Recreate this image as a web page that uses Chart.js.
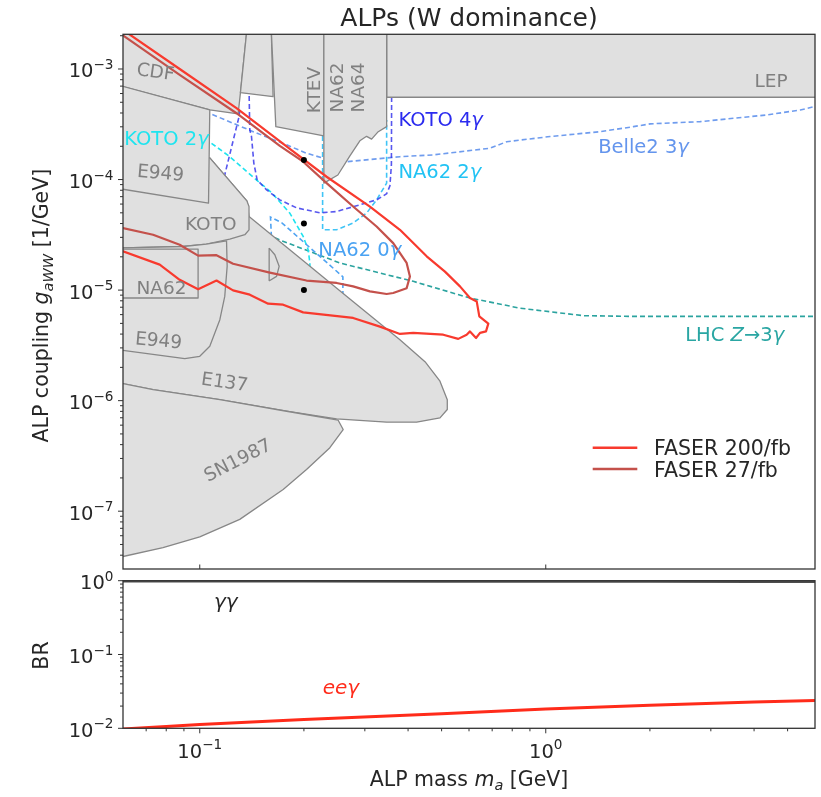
<!DOCTYPE html>
<html>
<head>
<meta charset="utf-8">
<script src="https://cdn.jsdelivr.net/npm/chart.js@4.4.1/dist/chart.umd.min.js"></script>
<style>
  html, body { margin: 0; padding: 0; background: #fff; }
  #wrap { position: relative; width: 821px; height: 797px; }
  #wrap canvas { position: absolute; left: 0; top: 0; }
</style>
</head>
<body>
<div id="wrap">
  <canvas id="chart-top" width="821" height="797"></canvas>
  <canvas id="chart-br" width="821" height="797"></canvas>
</div>
<script>
// --- 1. axis ranges and tick labels ---
const massRange = [0.06, 6];
const couplingRange = [3.04e-8, 2.06e-3];
const brRange = [0.01, 1];

const couplingTicks = [1e-3, 1e-4, 1e-5, 1e-6, 1e-7];
const couplingTickExp = ['−3', '−4', '−5', '−6', '−7'];
const massTicks = [0.1, 1];
const massTickExp = ['−1', '0'];
const brTicks = [1, 0.1, 0.01];
const brTickExp = ['0', '−1', '−2'];

// --- 2. excluded regions (gray polygons), mass [GeV] / coupling [1/GeV] ---
const lepMass = [0.347, 7, 7, 0.347, 0.347];
const lepCoup = [3e-3, 3e-3, 5.55e-4, 5.55e-4, 3e-3];

const e137Mass = [0.0579, 0.1069, 0.1368, 0.1388, 0.1947, 0.2716, 0.3789, 0.4477, 0.4946, 0.5193, 0.5193, 0.4946, 0.4236, 0.3468, 0.2486, 0.1782, 0.1143, 0.0733, 0.0579, 0.0579];
const e137Coup = [2.53e-4, 1.57e-4, 6.42e-5, 4.63e-5, 1.95e-5, 8.31e-6, 3.56e-6, 2.25e-6, 1.50e-6, 1.02e-6, 8.31e-7, 6.99e-7, 6.38e-7, 6.38e-7, 6.84e-7, 8.02e-7, 1.02e-6, 1.26e-6, 1.46e-6, 2.53e-4];

const snMass = [0.0579, 0.0733, 0.1143, 0.1782, 0.2512, 0.2597, 0.2377, 0.2035, 0.1742, 0.1305, 0.1, 0.0783, 0.06, 0.0579, 0.0579];
const snCoup = [1.46e-6, 1.26e-6, 1.02e-6, 8.02e-7, 6.65e-7, 5.48e-7, 3.75e-7, 2.38e-7, 1.57e-7, 8.43e-8, 5.86e-8, 4.68e-8, 3.89e-8, 3.79e-8, 1.46e-6];

const cdfMass = [0.0579, 0.1369, 0.1311, 0.1291, 0.1069, 0.0599, 0.0579, 0.0579];
const cdfCoup = [2.3e-3, 2.3e-3, 6.11e-4, 3.92e-4, 4.26e-4, 6.92e-4, 7.17e-4, 2.3e-3];

const midMass = [0.1369, 0.1609, 0.1629, 0.1311, 0.1369];
const midCoup = [2.3e-3, 2.3e-3, 5.62e-4, 6.11e-4, 2.3e-3];

const ktevMass = [0.1609, 0.2284, 0.2284, 0.1659, 0.1609];
const ktevCoup = [2.3e-3, 2.3e-3, 2.48e-4, 3.01e-4, 2.3e-3];

const na6264Mass = [0.2284, 0.3468, 0.3468, 0.3280, 0.3138, 0.3035, 0.2902, 0.2716, 0.2507, 0.2284, 0.2284];
const na6264Coup = [2.3e-3, 2.3e-3, 3.01e-4, 2.71e-4, 2.32e-4, 2.46e-4, 2.24e-4, 1.64e-4, 1.10e-4, 9.28e-5, 2.3e-3];

const kotoMass = [0.0579, 0.1069, 0.1368, 0.1388, 0.1388, 0.135, 0.1221, 0.1045, 0.0895, 0.0579, 0.0579];
const kotoCoup = [8.32e-5, 1.57e-4, 6.42e-5, 5.70e-5, 3.51e-5, 3.17e-5, 2.89e-5, 2.61e-5, 2.48e-5, 2.40e-5, 8.32e-5];

const e949UpMass = [0.0579, 0.1069, 0.106, 0.0579, 0.0579];
const e949UpCoup = [7.17e-4, 4.26e-4, 6.12e-5, 8.32e-5, 7.17e-4];

const e949LowMass = [0.0579, 0.0895, 0.1045, 0.1195, 0.12, 0.1181, 0.1143, 0.1069, 0.1, 0.0905, 0.0599, 0.0579, 0.0579];
const e949LowCoup = [2.40e-5, 2.48e-5, 2.61e-5, 2.79e-5, 1.64e-5, 8.77e-6, 5.40e-6, 3.10e-6, 2.52e-6, 2.40e-6, 2.85e-6, 2.89e-6, 2.40e-5];

const na62BoxMass = [0.0579, 0.0989, 0.0989, 0.0579, 0.0579];
const na62BoxCoup = [2.35e-5, 2.35e-5, 8.48e-6, 8.48e-6, 2.35e-5];

const crescentMass = [0.1587, 0.1648, 0.1696, 0.1667, 0.1594, 0.1587];
const crescentCoup = [2.40e-5, 2.09e-5, 1.64e-5, 1.33e-5, 1.22e-5, 2.40e-5];

// --- 3. projected sensitivities (dashed) ---
const koto2gMass = [0.1034, 0.1081, 0.1221, 0.1423, 0.1615, 0.1821, 0.199, 0.2057, 0.2081, 0.2081];
const koto2gCoup = [2.33e-4, 2.13e-4, 1.61e-4, 1.06e-4, 7.58e-5, 4.97e-5, 3.06e-5, 2.32e-5, 1.76e-5, 1.38e-5];

const koto4gMassA = [0.1305, 0.1299, 0.1184, 0.1177];
const koto4gCoupA = [4.26e-4, 3.71e-4, 1.14e-4, 1.04e-4];
const koto4gMassB = [0.1388, 0.1395, 0.1411, 0.1433, 0.1465, 0.156, 0.1704, 0.1904, 0.2224, 0.2486, 0.2902, 0.3244, 0.3468, 0.3545, 0.358, 0.3585, 0.3585];
const koto4gCoupB = [6.74e-4, 2.81e-4, 2.45e-4, 1.41e-4, 9.94e-5, 8.07e-5, 6.55e-5, 5.55e-5, 5.00e-5, 5.14e-5, 5.91e-5, 6.55e-5, 7.43e-5, 8.77e-5, 1.36e-4, 5.44e-4, 6.46e-4];

const na62g2Mass = [0.2265, 0.2265, 0.2486, 0.2775, 0.3035, 0.3244, 0.3468, 0.3468];
const na62g2Coup = [3.46e-4, 3.51e-5, 3.51e-5, 4.04e-5, 4.97e-5, 6.55e-5, 9.28e-5, 3.46e-4];

const na62g0Mass = [0.1615, 0.1601, 0.1727, 0.2592, 0.2592];
const na62g0Coup = [2.57e-5, 4.57e-5, 4.06e-5, 1.32e-5, 9.09e-6];

const belleMass = [0.1034, 0.1069, 0.1427, 0.1782, 0.2035, 0.2274, 0.2657, 0.3789, 0.4721, 0.69, 0.7713, 1.029, 1.436, 1.792, 2.003, 2.795, 4.359, 5.44, 6.64];
const belleCoup = [4.09e-4, 3.96e-4, 2.71e-4, 2.06e-4, 1.73e-4, 1.56e-4, 1.45e-4, 1.61e-4, 1.67e-4, 1.92e-4, 2.20e-4, 2.45e-4, 2.71e-4, 3.01e-4, 3.19e-4, 3.34e-4, 3.84e-4, 4.26e-4, 4.93e-4];

const lhcMass = [0.1648, 0.1727, 0.2541, 0.414, 0.6039, 0.8428, 1.284, 1.792, 6.64];
const lhcCoup = [2.97e-5, 2.79e-5, 1.76e-5, 1.20e-5, 8.48e-6, 6.86e-6, 5.87e-6, 5.78e-6, 5.78e-6];

// --- 4. FASER reach contours and benchmark points ---
const faser200Mass = [0.0607, 0.0875, 0.1277, 0.1821, 0.2326, 0.3103, 0.3789, 0.4527, 0.5113, 0.565, 0.6039, 0.6316, 0.6426, 0.6823, 0.6719, 0.6457, 0.6287, 0.6039, 0.5907, 0.5586, 0.5056, 0.414, 0.3789, 0.3317, 0.2775, 0.199, 0.1742, 0.1576, 0.1395, 0.1248, 0.1118, 0.0989, 0.0875, 0.0766, 0.06, 0.0579];
const faser200Coup = [2.2e-3, 1.0e-3, 4.42e-4, 1.89e-4, 1.06e-4, 5.70e-5, 3.51e-5, 2.02e-5, 1.47e-5, 1.08e-5, 8.48e-6, 7.90e-6, 5.78e-6, 4.97e-6, 4.23e-6, 4.10e-6, 3.69e-6, 4.23e-6, 3.95e-6, 3.62e-6, 3.95e-6, 4.10e-6, 4.01e-6, 4.67e-6, 5.60e-6, 6.29e-6, 7.38e-6, 7.54e-6, 9.09e-6, 9.94e-6, 1.22e-5, 1.02e-5, 1.24e-5, 1.70e-5, 2.24e-5, 2.32e-5];

const faser27Mass = [0.0579, 0.0607, 0.0875, 0.1277, 0.1704, 0.199, 0.2326, 0.2775, 0.3244, 0.3623, 0.3962, 0.405, 0.3962, 0.3623, 0.3468, 0.3103, 0.2775, 0.2486, 0.2035, 0.1594, 0.1248, 0.1118, 0.0989, 0.0875, 0.0733, 0.06, 0.0579];
const faser27Coup = [2.25e-3, 1.96e-3, 8.85e-4, 3.98e-4, 2.02e-4, 1.45e-4, 9.28e-5, 5.70e-5, 3.76e-5, 2.66e-5, 1.76e-5, 1.33e-5, 1.04e-5, 9.41e-6, 9.22e-6, 9.73e-6, 1.08e-5, 1.16e-5, 1.22e-5, 1.44e-5, 1.73e-5, 2.07e-5, 2.05e-5, 2.57e-5, 3.17e-5, 3.64e-5, 3.74e-5];

const benchMass = [0.2, 0.2, 0.2];
const benchCoup = [1.5e-4, 4.0e-5, 1.0e-5];

// --- 5. branching ratios (lower panel) ---
const brMass = [0.06, 0.08, 0.1, 0.2, 0.5, 1, 2, 4, 6];
const brGammaGamma = [0.990, 0.989, 0.989, 0.987, 0.984, 0.982, 0.980, 0.977, 0.976];
const brEEGamma = [0.0098, 0.0106, 0.0113, 0.0132, 0.0158, 0.0182, 0.0205, 0.0227, 0.0238];

// --- 6. text labels ---
const regionLabels = [
  { text: 'CDF', m: 0.0746, g: 9.59e-4, rot: 8 },
  { text: 'E949', m: 0.0771, g: 1.17e-4, rot: 5 },
  { text: 'KOTO', m: 0.1076, g: 3.98e-5, rot: 0 },
  { text: 'NA62', m: 0.0775, g: 1.06e-5, rot: 0 },
  { text: 'E949', m: 0.0761, g: 3.56e-6, rot: 5 },
  { text: 'E137', m: 0.1181, g: 1.50e-6, rot: 8 },
  { text: 'SN1987', m: 0.1284, g: 2.94e-7, rot: -27 },
  { text: 'KTEV', m: 0.2127, g: 6.46e-4, rot: -90 },
  { text: 'NA62', m: 0.2486, g: 6.81e-4, rot: -90 },
  { text: 'NA64', m: 0.2854, g: 6.81e-4, rot: -90 },
  { text: 'LEP', m: 4.48, g: 7.9e-4, rot: 0 }
];
const curveLabels = [
  { runs: [['KOTO 4', false], ['γ', true]], color: '#2b2bef', m: 0.3751, g: 3.07e-4 },
  { runs: [['Belle2 3', false], ['γ', true]], color: '#6495ed', m: 1.417, g: 1.74e-4 },
  { runs: [['NA62 2', false], ['γ', true]], color: '#22c3f4', m: 0.3751, g: 1.04e-4 },
  { runs: [['KOTO 2', false], ['γ', true]], color: '#1fe4ef', m: 0.0605, g: 2.06e-4 },
  { runs: [['NA62 0', false], ['γ', true]], color: '#4aa2f2', m: 0.2201, g: 2.02e-5 },
  { runs: [['LHC ', false], ['Z', true], ['→3', false], ['γ', true]], color: '#2aa6a3', m: 2.529, g: 3.49e-6 }
];

const RED = '#f83a2e';
const BROWN = '#c4514b';
const GRAY_FILL = '#e0e0e0';
const GRAY_EDGE = '#878787';
const TXT = '#262626';
const FONT = '"DejaVu Sans", sans-serif';

// --- helpers ---
function pts(ms, gs) { return ms.map((m, i) => ({ x: m, y: gs[i] })); }

function region(ms, gs) {
  return { data: pts(ms, gs), fill: 'shape', backgroundColor: GRAY_FILL, borderColor: GRAY_EDGE,
           borderWidth: 1.3, borderJoinStyle: 'round', pointRadius: 0, tension: 0, clip: 0 };
}
function dashed(ms, gs, color) {
  return { data: pts(ms, gs), fill: false, borderColor: color, borderWidth: 1.6, borderDash: [5, 3],
           pointRadius: 0, tension: 0, clip: 0 };
}
function contour(ms, gs, color) {
  return { data: pts(ms, gs), fill: false, borderColor: color, borderWidth: 2.2, borderJoinStyle: 'round',
           pointRadius: 0, tension: 0, clip: 0 };
}

function fnt(size, italic) { return (italic ? 'italic ' : '') + size + 'px ' + FONT; }

// runs: [text, italic, size, dy]
function drawRuns(ctx, runs, x, y, align, color) {
  let total = 0;
  const widths = runs.map(r => {
    ctx.font = fnt(r[2], r[1]);
    const w = ctx.measureText(r[0]).width;
    total += w;
    return w;
  });
  let cx = align === 'center' ? x - total / 2 : (align === 'right' ? x - total : x);
  ctx.textAlign = 'left';
  ctx.textBaseline = 'alphabetic';
  ctx.fillStyle = color;
  runs.forEach((r, i) => {
    ctx.font = fnt(r[2], r[1]);
    ctx.fillText(r[0], cx, y + (r[3] || 0));
    cx += widths[i];
  });
}
function powerRuns(exp) { return [['10', false, 19.5, 0], [exp, false, 13.6, -8.5]]; }

function minorValues(lo, hi) {
  const out = [];
  for (let k = Math.floor(Math.log10(lo)); k <= Math.ceil(Math.log10(hi)); k++) {
    for (let j = 2; j <= 9; j++) {
      const v = j * Math.pow(10, k);
      if (v > lo && v < hi) out.push(v);
    }
  }
  return out;
}

// --- 7. decoration plugins ---
const topDecor = {
  id: 'topDecor',
  afterDraw(chart) {
    const { ctx, chartArea: a, scales: { x, y } } = chart;
    ctx.save();

    regionLabels.forEach(l => {
      ctx.save();
      ctx.translate(x.getPixelForValue(l.m), y.getPixelForValue(l.g));
      ctx.rotate(l.rot * Math.PI / 180);
      ctx.font = fnt(18.5);
      ctx.fillStyle = '#808080';
      ctx.textAlign = 'center';
      ctx.textBaseline = 'alphabetic';
      ctx.fillText(l.text, 0, 6.7);
      ctx.restore();
    });

    curveLabels.forEach(l => {
      drawRuns(ctx, l.runs.map(r => [r[0], r[1], 19.5, 0]),
               x.getPixelForValue(l.m), y.getPixelForValue(l.g), 'left', l.color);
    });

    // legend
    const legend = [{ text: 'FASER 200/fb', color: RED }, { text: 'FASER 27/fb', color: BROWN }];
    legend.forEach((it, i) => {
      const ly = a.top + 413.4 + i * 21.3;
      ctx.strokeStyle = it.color;
      ctx.lineWidth = 2.4;
      ctx.beginPath();
      ctx.moveTo(a.right - 222.3, ly);
      ctx.lineTo(a.right - 177.7, ly);
      ctx.stroke();
      drawRuns(ctx, [[it.text, false, 20.5, 0]], a.right - 161, ly + 7.5, 'left', TXT);
    });

    // frame and ticks
    ctx.strokeStyle = '#333';
    ctx.lineWidth = 1.3;
    ctx.strokeRect(a.left, a.top, a.right - a.left, a.bottom - a.top);
    ctx.lineWidth = 1;
    ctx.beginPath();
    couplingTicks.forEach(v => {
      const p = y.getPixelForValue(v);
      ctx.moveTo(a.left - 5, p); ctx.lineTo(a.left, p);
    });
    minorValues(couplingRange[0], couplingRange[1]).forEach(v => {
      const p = y.getPixelForValue(v);
      ctx.moveTo(a.left - 3, p); ctx.lineTo(a.left, p);
    });
    massTicks.forEach(v => {
      const p = x.getPixelForValue(v);
      ctx.moveTo(p, a.bottom); ctx.lineTo(p, a.bottom - 4.5);
    });
    ctx.stroke();

    couplingTicks.forEach((v, i) => {
      drawRuns(ctx, powerRuns(couplingTickExp[i]), a.left - 9.5, y.getPixelForValue(v) + 8.5, 'right', TXT);
    });

    // title and axis title
    drawRuns(ctx, [['ALPs (W dominance)', false, 25, 0]], (a.left + a.right) / 2, 26, 'center', TXT);
    ctx.save();
    ctx.translate(40, (a.top + a.bottom) / 2 + 4);
    ctx.rotate(-Math.PI / 2);
    drawRuns(ctx, [['ALP coupling ', false, 20.5, 0], ['g', true, 20.5, 0], ['aWW', true, 14.5, 4.5],
                   [' [1/GeV]', false, 20.5, 0]], 0, 8, 'center', TXT);
    ctx.restore();
    ctx.restore();
  }
};

const brDecor = {
  id: 'brDecor',
  afterDraw(chart) {
    const { ctx, chartArea: a, scales: { x, y } } = chart;
    ctx.save();
    drawRuns(ctx, [['γγ', true, 20, 0]], x.getPixelForValue(0.1189), y.getPixelForValue(0.531) + 7, 'center', TXT);
    drawRuns(ctx, [['eeγ', true, 20, 0]], x.getPixelForValue(0.2558), y.getPixelForValue(0.0363) + 7, 'center', '#ff2b1a');

    ctx.strokeStyle = '#333';
    ctx.lineWidth = 1.3;
    ctx.strokeRect(a.left, a.top, a.right - a.left, a.bottom - a.top);
    ctx.lineWidth = 1;
    ctx.beginPath();
    brTicks.forEach(v => {
      const p = y.getPixelForValue(v);
      ctx.moveTo(a.left - 5, p); ctx.lineTo(a.left, p);
    });
    minorValues(brRange[0], brRange[1]).forEach(v => {
      const p = y.getPixelForValue(v);
      ctx.moveTo(a.left - 3, p); ctx.lineTo(a.left, p);
    });
    massTicks.forEach(v => {
      const p = x.getPixelForValue(v);
      ctx.moveTo(p, a.bottom); ctx.lineTo(p, a.bottom + 5);
    });
    minorValues(massRange[0], massRange[1]).forEach(v => {
      const p = x.getPixelForValue(v);
      ctx.moveTo(p, a.bottom); ctx.lineTo(p, a.bottom + 3);
    });
    ctx.stroke();

    brTicks.forEach((v, i) => {
      drawRuns(ctx, powerRuns(brTickExp[i]), a.left - 9.5, y.getPixelForValue(v) + 8.5, 'right', TXT);
    });
    massTicks.forEach((v, i) => {
      drawRuns(ctx, powerRuns(massTickExp[i]), x.getPixelForValue(v), a.bottom + 29.2, 'center', TXT);
    });

    drawRuns(ctx, [['ALP mass ', false, 20.5, 0], ['m', true, 20.5, 0], ['a', true, 14.5, 4.5],
                   [' [GeV]', false, 20.5, 0]], (a.left + a.right) / 2, a.bottom + 57.5, 'center', TXT);
    ctx.save();
    ctx.translate(40, (a.top + a.bottom) / 2 + 1);
    ctx.rotate(-Math.PI / 2);
    drawRuns(ctx, [['BR', false, 20.5, 0]], 0, 8, 'center', TXT);
    ctx.restore();
    ctx.restore();
  }
};

function baseOptions(yRange, pad) {
  return {
    responsive: false,
    animation: false,
    devicePixelRatio: 1,
    events: [],
    layout: { padding: pad },
    plugins: { legend: { display: false }, tooltip: { enabled: false }, title: { display: false } },
    scales: {
      x: { type: 'logarithmic', min: massRange[0], max: massRange[1], display: false },
      y: { type: 'logarithmic', min: yRange[0], max: yRange[1], display: false }
    }
  };
}

// --- 8. build charts ---
// listed from bottom layer to top layer
const topSets = [
  dashed(belleMass, belleCoup, '#6f9cee'),
  dashed(lhcMass, lhcCoup, '#2ba39f'),
  dashed(koto2gMass, koto2gCoup, '#1fe3ef'),
  dashed(na62g2Mass, na62g2Coup, '#3fc4f6'),
  dashed(na62g0Mass, na62g0Coup, '#4fa3f2'),
  dashed(koto4gMassA, koto4gCoupA, 'rgba(45,45,235,0.8)'),
  dashed(koto4gMassB, koto4gCoupB, 'rgba(45,45,235,0.8)'),
  region(lepMass, lepCoup),
  region(e137Mass, e137Coup),
  region(snMass, snCoup),
  region(cdfMass, cdfCoup),
  region(midMass, midCoup),
  region(ktevMass, ktevCoup),
  region(na6264Mass, na6264Coup),
  region(kotoMass, kotoCoup),
  region(e949UpMass, e949UpCoup),
  region(e949LowMass, e949LowCoup),
  region(na62BoxMass, na62BoxCoup),
  region(crescentMass, crescentCoup),
  contour(faser27Mass, faser27Coup, BROWN),
  contour(faser200Mass, faser200Coup, RED),
  { data: pts(benchMass, benchCoup), showLine: false, pointRadius: 3, pointBackgroundColor: '#000',
    pointBorderColor: '#000', pointBorderWidth: 0, borderColor: '#000', clip: 0 }
];
topSets.forEach((d, i) => { d.order = topSets.length - i; });

new Chart(document.getElementById('chart-top'), {
  type: 'line',
  data: { datasets: topSets },
  options: baseOptions(couplingRange, { left: 123, right: 6, top: 34.3, bottom: 228 }),
  plugins: [topDecor]
});

const brSets = [
  { data: pts(brMass, brGammaGamma), borderColor: '#4d4d4d', borderWidth: 3, pointRadius: 0, fill: false },
  { data: pts(brMass, brEEGamma), borderColor: '#ff2b1a', borderWidth: 3, pointRadius: 0, fill: false, clip: 0 }
];

new Chart(document.getElementById('chart-br'), {
  type: 'line',
  data: { datasets: brSets },
  options: baseOptions(brRange, { left: 123, right: 6, top: 580.7, bottom: 68.7 }),
  plugins: [brDecor]
});
</script>
</body>
</html>
